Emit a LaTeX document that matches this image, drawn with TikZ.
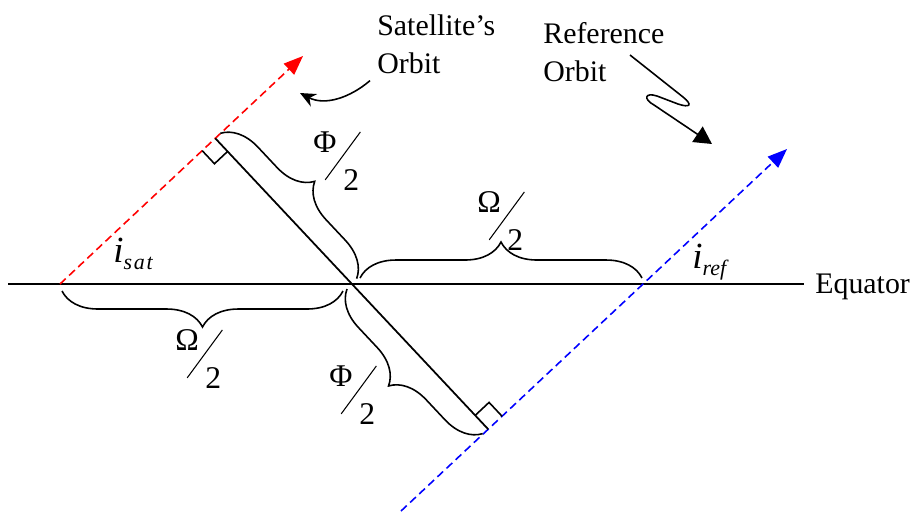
\documentclass[tikz,border=0pt]{standalone}
\usepackage{fontspec}
\setmainfont{Liberation Serif}
\usepackage{graphicx}
\usetikzlibrary{arrows.meta,calc,decorations.pathreplacing}
\definecolor{orbitred}{HTML}{FF0000}
\definecolor{orbitblue}{HTML}{0000FF}
\newcommand{\slashfrac}[1]{\rlap{\raisebox{21.6pt}{#1}}\hspace{6.5pt}\rlap{\raisebox{5.6pt}{\rotatebox{53.7}{\rule{33.8pt}{0.6pt}}}}\hspace{10.6pt}2}
\tikzset{
  equatorline/.style={line width=1pt, draw=black},
  redorbit/.style={line width=0.9pt, draw=orbitred, dash pattern=on 4.5pt off 2.6pt, -{Triangle[length=11pt,width=8.5pt]}},
  blueorbit/.style={line width=0.9pt, draw=orbitblue, dash pattern=on 4.5pt off 2.6pt, -{Triangle[length=11pt,width=8.5pt]}},
  bracket/.style={line width=0.9pt, decorate, decoration={brace, amplitude=0.72cm}},
  mirrorbracket/.style={line width=0.9pt, decorate, decoration={brace, mirror, amplitude=0.72cm}},
  rightangle/.style={line width=0.9pt},
  orbittext/.style={font=\fontsize{17}{20}\selectfont, inner sep=0pt, anchor=base west},
  fractext/.style={font=\fontsize{18}{20}\selectfont, inner sep=0pt, anchor=base west},
  incltext/.style={inner sep=0pt, anchor=base west},
  pointer/.style={line width=0.9pt, -{Stealth[length=9pt,width=8pt]}},
  zigzag/.style={line width=0.9pt, -{Triangle[length=10pt,width=10.5pt]}}
}

\begin{document}
\begin{tikzpicture}[x=0.02cm, y=-0.02cm]
\fill[white] (0,0) rectangle (919,512);
\coordinate (eqleft) at (8,284);
\coordinate (A) at (60,284);
\coordinate (O) at (352,284);
\coordinate (B) at (643,284);
\coordinate (redtip) at (303,56);
\coordinate (bluestart) at (401,511);
\coordinate (bluetip) at (787,149);
\node[orbittext] (eq) at (815,293) {Equator};
\draw[equatorline] (eqleft) -- ($(eqleft -| eq.west)+(-11,0)$);
\draw[redorbit] (A) -- (redtip);
\draw[blueorbit] (bluestart) -- (bluetip);
% perpendicular between the orbits
\coordinate (P) at ($(A)!(O)!(redtip)$);
\coordinate (Q) at ($(bluestart)!(O)!(bluetip)$);
\draw[equatorline] (P) -- (Q);
\coordinate (pa) at ($(P)!0.36cm!(A)$);
\coordinate (po) at ($(P)!0.36cm!(O)$);
\draw[rightangle] (pa) -- ($(pa)+(po)-(P)$) -- (po);
\coordinate (qo) at ($(Q)!0.38cm!(O)$);
\coordinate (qb) at ($(Q)!0.38cm!(bluetip)$);
\draw[rightangle] (qo) -- ($(qo)+(qb)-(Q)$) -- (qb);
% braces
\draw[bracket] ($(P)+(5,-5)$) -- ($(O)+(5,-5)$);
\draw[bracket] ($(O)+(8,-6)$) -- ($(B)+(-1,-6)$);
\draw[mirrorbracket] ($(A)+(2,7)$) -- ($(O)+(-9,7)$);
\draw[mirrorbracket] ($(O)+(-5,5)$) -- ($(Q)+(-5,5)$);
\node[fractext] (phiup) at (313,190) {\slashfrac{Φ}};
\node[fractext] (omup) at (477,250) {\slashfrac{Ω}};
\node[fractext] (omdown) at (175,388) {\slashfrac{Ω}};
\node[fractext] (phidown) at (329,424) {\slashfrac{Φ}};
\node[incltext] (isat) at (113,262) {{\fontsize{21}{21}\selectfont\itshape i}\raisebox{-4.5pt}{\fontsize{12.5}{12.5}\selectfont\itshape s\kern1pt a\kern1pt t}};
\node[incltext] (iref) at (692,268) {{\fontsize{21}{21}\selectfont\itshape i}\raisebox{-4pt}{\fontsize{12.5}{12.5}\selectfont\itshape ref}};
% orbit captions
\node[orbittext] (sat1) at (377,35) {Satellite’s};
\node[orbittext] (sat2) at (377,73) {Orbit};
\node[orbittext] (ref1) at (543,43) {Reference};
\node[orbittext] (ref2) at (543,81) {Orbit};
\coordinate (satpoint) at (300,93);
\coordinate (refstart) at (630,55);
\coordinate (reftip) at (712,144);
\draw[pointer] ($(sat2.south west)+(-7,7)$) .. controls +(-20,17) and +(25,13) .. (satpoint);
\draw[zigzag] (refstart) -- (683,97) .. controls (693,105) and (690,108) .. (678,104) -- (657,96) .. controls (645,92) and (643,99) .. (654,105) -- (reftip);
\end{tikzpicture}
\end{document}
